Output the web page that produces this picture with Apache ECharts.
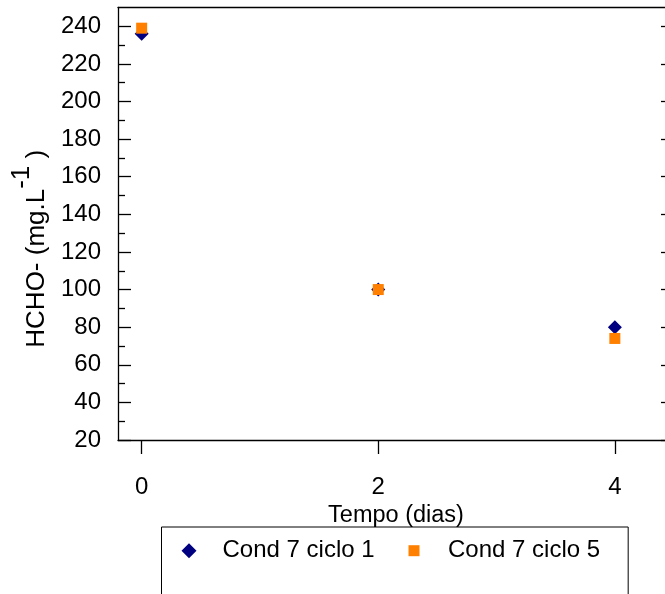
<!DOCTYPE html>
<html>
<head>
<meta charset="utf-8">
<script src="https://cdn.jsdelivr.net/npm/echarts@6/dist/echarts.min.js"></script>
<style>
  html, body { margin: 0; padding: 0; background: #fff; }
  #chart { width: 665px; height: 594px; }
</style>
</head>
<body>
<div id="chart"></div>
<script>
// Formaldehyde concentration over time, two cycles of condition 7
const seriesNames = ['Cond 7 ciclo 1', 'Cond 7 ciclo 5'];
const days = [0, 2, 4];
const ciclo1 = [236, 100, 80];
const ciclo5 = [239, 100, 74];

// axis tick positions / labels
const dayTicks = [0, 2, 4];
const concTicks = [20, 40, 60, 80, 100, 120, 140, 160, 180, 200, 220, 240];
const concMinorTicks = [30, 50, 70, 90, 110, 130, 150, 170, 190, 210, 230];

const FONT = '"Liberation Sans", Arial, sans-serif';
const INK = '#000';
const axisLine = { color: INK, width: 1.3 };

const chart = echarts.init(document.getElementById('chart'), null, { renderer: 'canvas' });

const toPoints = (vals) => days.map((d, i) => [d, vals[i]]);

const option = {
  animation: false,
  backgroundColor: '#fff',
  textStyle: { fontFamily: FONT, color: INK },
  grid: {
    left: 118, top: 7.5, right: -9, bottom: 154,
    containLabel: false, outerBoundsMode: 'none'
  },
  legend: [
    {
      data: [seriesNames[0]],
      left: 161.5, top: 527,
      orient: 'horizontal',
      padding: [11.7, 253.6, 60, 20],
      borderColor: INK, borderWidth: 1,
      itemWidth: 15, itemHeight: 15,
      icon: 'diamond',
      selectedMode: false,
      itemStyle: { opacity: 1 },
      textStyle: { fontFamily: FONT, fontSize: 24, color: INK, padding: [0, 0, 0, 21] }
    },
    {
      data: [seriesNames[1]],
      left: 408.5, top: 538.7,
      orient: 'horizontal',
      padding: 0,
      itemWidth: 11, itemHeight: 11,
      icon: 'rect',
      selectedMode: false,
      itemStyle: { opacity: 1 },
      textStyle: { fontFamily: FONT, fontSize: 24, color: INK, padding: [0, 0, 0, 23.5] }
    }
  ],
  xAxis: [
    {
      type: 'value', position: 'bottom', min: -0.2, max: 4.5,
      axisLine: { show: true, onZero: false, lineStyle: axisLine },
      axisTick: { show: true, inside: false, length: 14, customValues: dayTicks, lineStyle: axisLine },
      axisLabel: { customValues: dayTicks, margin: 35, fontSize: 24, color: INK, fontFamily: FONT },
      splitLine: { show: false },
      name: 'Tempo (dias)', nameLocation: 'middle', nameGap: 60,
      nameTextStyle: { fontSize: 23.5, color: INK, fontFamily: FONT }
    },
    {
      type: 'value', position: 'top', min: -0.2, max: 4.5,
      axisLine: { show: true, onZero: false, lineStyle: axisLine },
      axisTick: { show: false },
      axisLabel: { show: false },
      splitLine: { show: false }
    }
  ],
  yAxis: [
    {
      type: 'value', position: 'left', min: 20, max: 250,
      axisLine: { show: true, onZero: false, lineStyle: axisLine },
      axisTick: { show: true, inside: true, length: 13, customValues: concTicks, lineStyle: axisLine },
      axisLabel: { customValues: concTicks, margin: 17, fontSize: 24, color: INK, fontFamily: FONT },
      splitLine: { show: false },
      name: 'HCHO- (mg.L{sup|-1} )', nameLocation: 'middle', nameGap: 52,
      nameTextStyle: {
        fontSize: 26, color: INK, fontFamily: FONT, lineHeight: 26,
        padding: [0, 50, 0, 0],
        rich: { sup: { fontSize: 26, color: INK, fontFamily: FONT, padding: [0, 0, 30, 0] } }
      }
    },
    {
      type: 'value', position: 'left', min: 20, max: 250,
      axisLine: { show: false, onZero: false },
      axisTick: { show: true, inside: true, length: 7, customValues: concMinorTicks, lineStyle: axisLine },
      axisLabel: { show: false },
      splitLine: { show: false }
    },
    {
      type: 'value', position: 'right', min: 20, max: 250,
      axisLine: { show: true, onZero: false, lineStyle: axisLine },
      axisTick: { show: true, inside: true, length: 13, customValues: concTicks, lineStyle: axisLine },
      axisLabel: { show: false },
      splitLine: { show: false }
    }
  ],
  series: [
    {
      name: seriesNames[0], type: 'scatter', xAxisIndex: 0, yAxisIndex: 0,
      symbol: 'diamond', symbolSize: 14,
      itemStyle: { color: '#000080', opacity: 1 },
      data: toPoints(ciclo1), z: 2
    },
    {
      name: seriesNames[1], type: 'scatter', xAxisIndex: 0, yAxisIndex: 0,
      symbol: 'rect', symbolSize: 11,
      itemStyle: { color: '#ff8000', opacity: 1 },
      data: toPoints(ciclo5), z: 3
    }
  ]
};

chart.setOption(option);
</script>
</body>
</html>
